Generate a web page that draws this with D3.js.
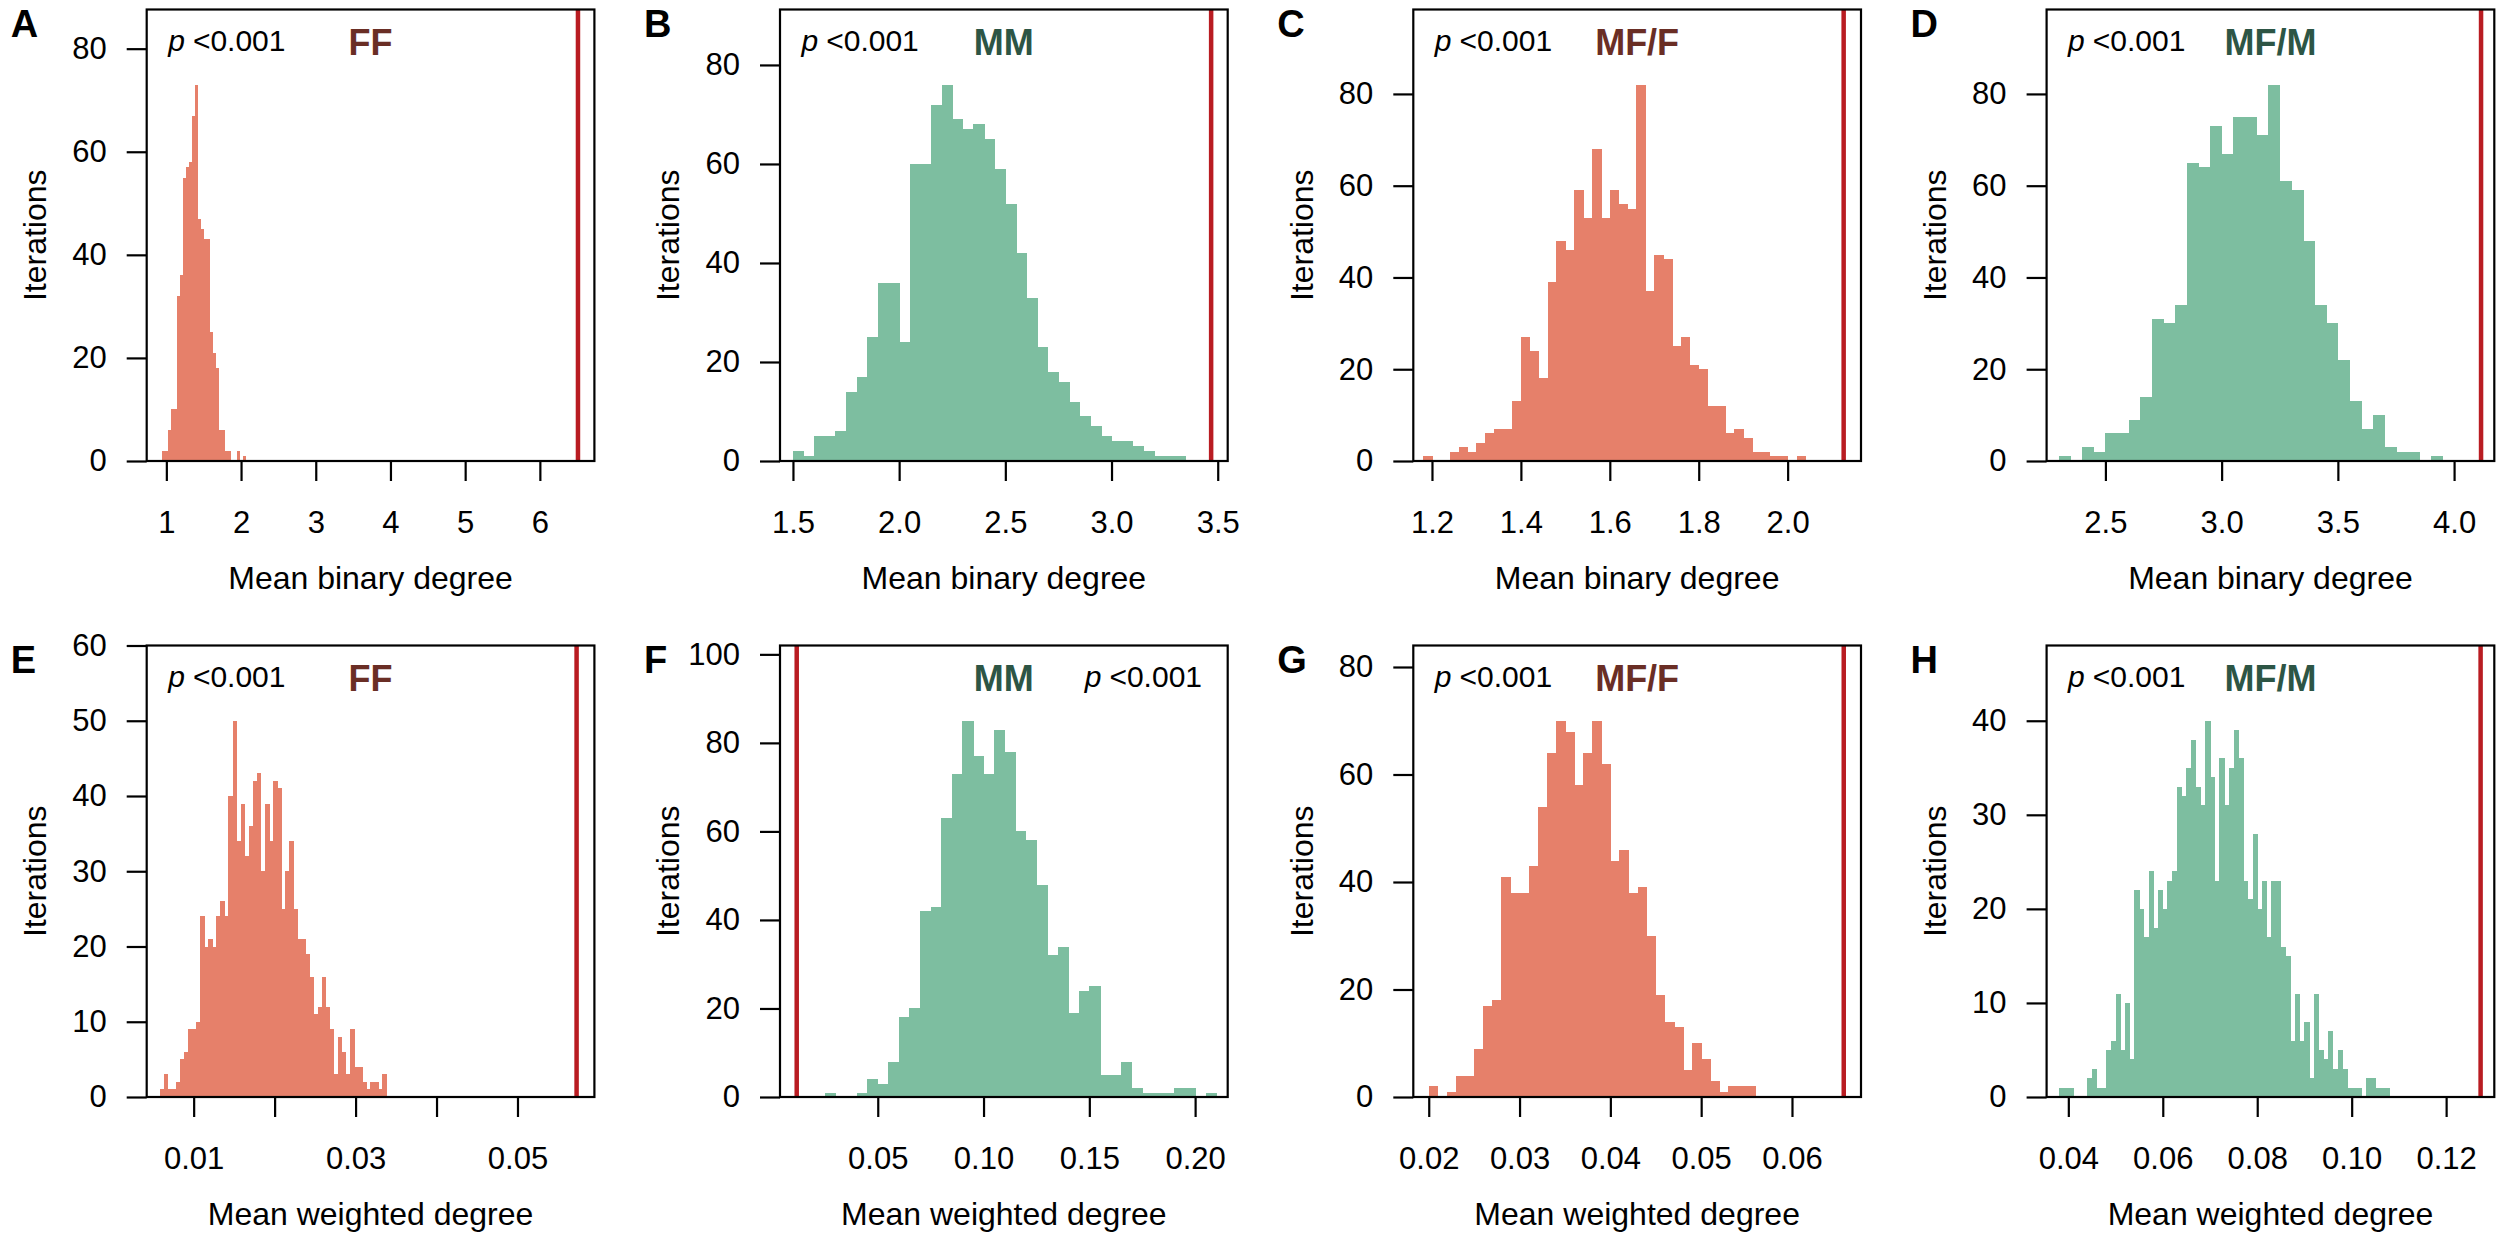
<!DOCTYPE html>
<html>
<head>
<meta charset="utf-8">
<script src="https://cdn.jsdelivr.net/npm/d3@7"></script>
<style>
  body { margin: 0; background: #fff; }
  svg { display: block; }
</style>
</head>
<body>
<div id="chart"></div>
<script>
let width = 2500
let height = 1234

//////////////////////////////////////////////////////////////////////
// DATA (bin counts, 1000 iterations per panel)
//////////////////////////////////////////////////////////////////////
let ffBinaryCounts = [2, 2, 6, 10, 10, 32, 36, 55, 57, 58, 67, 73, 47, 45, 43, 43, 25, 21, 18, 6, 6, 2, 2, 0, 0, 2, 0, 1]
let mmBinaryCounts = [2, 1, 5, 5, 6, 14, 17, 25, 36, 36, 24, 60, 60, 72, 76, 69, 67, 68, 65, 59, 52, 42, 33, 23, 18, 16, 12, 9, 7, 5, 4, 4, 3, 2, 1, 1, 1]
let mfFBinaryCounts = [1, 0, 0, 2, 3, 2, 4, 6, 7, 7, 13, 27, 24, 18, 39, 48, 46, 59, 53, 68, 53, 59, 56, 55, 82, 37, 45, 44, 25, 27, 21, 20, 12, 12, 6, 7, 5, 2, 2, 1, 1, 0, 1]
let mfMBinaryCounts = [1, 0, 3, 2, 6, 6, 9, 14, 31, 30, 34, 65, 64, 73, 67, 75, 75, 71, 82, 61, 59, 48, 34, 30, 22, 13, 7, 10, 3, 2, 2, 0, 1]
let ffWeightedCounts = [1, 3, 1, 1, 2, 5, 6, 9, 9, 10, 24, 20, 21, 20, 24, 26, 24, 40, 50, 34, 39, 32, 36, 42, 43, 30, 39, 34, 42, 41, 25, 30, 34, 25, 21, 21, 19, 16, 11, 12, 16, 12, 9, 3, 8, 6, 3, 9, 4, 4, 2, 1, 2, 2, 1, 3]
let mmWeightedCounts = [1, 0, 0, 1, 4, 3, 8, 18, 20, 42, 43, 63, 73, 85, 77, 73, 83, 78, 60, 58, 48, 32, 34, 19, 24, 25, 5, 5, 8, 2, 1, 1, 1, 2, 2, 0, 1]
let mfFWeightedCounts = [2, 0, 1, 4, 4, 9, 17, 18, 41, 38, 38, 43, 54, 64, 70, 68, 58, 64, 70, 62, 44, 46, 38, 39, 30, 19, 14, 13, 5, 10, 7, 3, 1, 2, 2, 2]
let mfMWeightedCounts = [1, 1, 1, 0, 0, 0, 2, 3, 1, 1, 5, 6, 11, 5, 10, 4, 22, 20, 17, 24, 18, 22, 20, 23, 24, 33, 32, 35, 38, 33, 31, 40, 34, 23, 36, 31, 35, 39, 36, 23, 21, 28, 20, 23, 17, 23, 23, 16, 15, 6, 11, 6, 8, 2, 11, 5, 4, 7, 3, 5, 3, 1, 1, 1, 0, 2, 2, 1, 1, 1]

let binStarts = [0.94, 1.5, 1.18, 2.3, 0.0058, 0.025, 0.02, 0.038]
let binWidths = [0.04, 0.05, 0.02, 0.05, 0.0005, 0.005, 0.001, 0.001]
// observed network value (red line)
let observedValues = [6.51, 3.469, 2.126, 4.116, 0.0573, 0.0117, 0.0657, 0.1273]
let pLabels = ["<0.001", "<0.001", "<0.001", "<0.001", "<0.001", "<0.001", "<0.001", "<0.001"]

let panelLetters = ["A", "B", "C", "D", "E", "F", "G", "H"]
let groupLabels = ["FF", "MM", "MF/F", "MF/M", "FF", "MM", "MF/F", "MF/M"]
let xTitles = ["Mean binary degree", "Mean binary degree", "Mean binary degree", "Mean binary degree",
  "Mean weighted degree", "Mean weighted degree", "Mean weighted degree", "Mean weighted degree"]
let yTitle = "Iterations"

let xLimits = [[0.737, 6.73], [1.439, 3.547], [1.158, 2.165], [2.247, 4.173],
  [0.0042, 0.0595], [0.0038, 0.2154], [0.0183, 0.0676], [0.0354, 0.1302]]
let xTicks = [[1, 2, 3, 4, 5, 6], [1.5, 2, 2.5, 3, 3.5], [1.2, 1.4, 1.6, 1.8, 2.0], [2.5, 3, 3.5, 4],
  [0.01, 0.02, 0.03, 0.04, 0.05], [0.05, 0.1, 0.15, 0.2], [0.02, 0.03, 0.04, 0.05, 0.06], [0.04, 0.06, 0.08, 0.1, 0.12]]
let xTickLabels = [["1", "2", "3", "4", "5", "6"], ["1.5", "2.0", "2.5", "3.0", "3.5"], ["1.2", "1.4", "1.6", "1.8", "2.0"],
  ["2.5", "3.0", "3.5", "4.0"], ["0.01", "", "0.03", "", "0.05"], ["0.05", "0.10", "0.15", "0.20"],
  ["0.02", "0.03", "0.04", "0.05", "0.06"], ["0.04", "0.06", "0.08", "0.10", "0.12"]]
let yTicks = [[0, 20, 40, 60, 80], [0, 20, 40, 60, 80], [0, 20, 40, 60, 80], [0, 20, 40, 60, 80],
  [0, 10, 20, 30, 40, 50, 60], [0, 20, 40, 60, 80, 100], [0, 20, 40, 60, 80], [0, 10, 20, 30, 40]]

let panelCounts = [ffBinaryCounts, mmBinaryCounts, mfFBinaryCounts, mfMBinaryCounts,
  ffWeightedCounts, mmWeightedCounts, mfFWeightedCounts, mfMWeightedCounts]

//////////////////////////////////////////////////////////////////////
// LAYOUT / STYLE
//////////////////////////////////////////////////////////////////////
let font = '"Liberation Sans", Arial, Helvetica, sans-serif'
let barColor = { F: "#e6806a", M: "#7dbea0" }
let labelColor = { F: "#6a2e25", M: "#2d5545" }
let lineRed = "#b91c22"

let plotW = 447.7
let plotH = 451.5
let left0 = 146.7
let top0 = 9.5
let colStep = 633.3
let rowStep = 636

const svg = d3
  .select("#chart")
  .append("svg")
  .attr("width", width)
  .attr("height", height)
  .attr("viewBox", `0 0 ${width} ${height}`)
  .style("font-family", font)

svg.append("rect").attr("width", width).attr("height", height).attr("fill", "#fff")

//////////////////////////////////////////////////////////////////////
// DRAW EACH HISTOGRAM
//////////////////////////////////////////////////////////////////////
panelLetters.forEach((letter, i) => {
  const col = i % 4
  const row = Math.floor(i / 4)
  const counts = panelCounts[i]
  const sex = groupLabels[i].slice(-1)

  const g = svg
    .append("g")
    .attr("transform", `translate(${left0 + col * colStep},${top0 + row * rowStep})`)

  const x = d3.scaleLinear().domain(xLimits[i]).range([0, plotW])
  const y = d3.scaleLinear().domain([0, d3.max(counts) * 1.2]).range([plotH, 0])

  const bins = counts
    .map((n, k) => ({
      x0: binStarts[i] + k * binWidths[i],
      x1: binStarts[i] + (k + 1) * binWidths[i],
      n: n,
    }))
    .filter((d) => d.n > 0)

  g.append("g")
    .attr("shape-rendering", "crispEdges")
    .selectAll("rect")
    .data(bins)
    .join("rect")
    .attr("x", (d) => x(d.x0))
    .attr("width", (d) => x(d.x1) - x(d.x0) + 0.6)
    .attr("y", (d) => y(d.n))
    .attr("height", (d) => y(0) - y(d.n))
    .attr("fill", barColor[sex])

  // observed value
  g.append("line")
    .attr("x1", x(observedValues[i]))
    .attr("x2", x(observedValues[i]))
    .attr("y1", 0)
    .attr("y2", plotH)
    .attr("stroke", lineRed)
    .attr("stroke-width", 4.5)

  // box
  g.append("rect")
    .attr("width", plotW)
    .attr("height", plotH)
    .attr("fill", "none")
    .attr("stroke", "#000")
    .attr("stroke-width", 2.2)

  // axes
  const xAxis = g
    .append("g")
    .attr("transform", `translate(0,${plotH})`)
    .call(
      d3.axisBottom(x)
        .tickValues(xTicks[i])
        .tickFormat((d, k) => xTickLabels[i][k])
        .tickSize(20)
        .tickPadding(30)
    )
  const yAxis = g
    .append("g")
    .call(d3.axisLeft(y).tickValues(yTicks[i]).tickSize(20).tickPadding(20))

  for (const a of [xAxis, yAxis]) {
    a.select(".domain").remove()
    a.attr("font-family", font).attr("font-size", 31)
    a.selectAll("line").attr("stroke", "#000").attr("stroke-width", 2.2)
    a.selectAll("text").attr("fill", "#000")
  }

  // p value, on the side away from the red line
  const lineOnRight = x(observedValues[i]) > plotW / 2
  const pText = g
    .append("text")
    .attr("x", lineOnRight ? 21.5 : plotW - 25.7)
    .attr("y", 41)
    .attr("text-anchor", lineOnRight ? "start" : "end")
    .attr("font-size", 30)
  pText.append("tspan").attr("font-style", "italic").text("p")
  pText.append("tspan").attr("dx", 8).text(pLabels[i])

  // group label
  g.append("text")
    .attr("x", plotW / 2)
    .attr("y", 45.5)
    .attr("text-anchor", "middle")
    .attr("font-size", 36)
    .attr("font-weight", "bold")
    .attr("fill", labelColor[sex])
    .text(groupLabels[i])

  // panel letter
  g.append("text")
    .attr("x", -136)
    .attr("y", 27.5)
    .attr("font-size", 38)
    .attr("font-weight", "bold")
    .text(letter)

  // axis titles
  g.append("text")
    .attr("x", plotW / 2)
    .attr("y", plotH + 128)
    .attr("text-anchor", "middle")
    .attr("font-size", 32)
    .text(xTitles[i])

  g.append("text")
    .attr("transform", `translate(-100.7,${plotH / 2}) rotate(-90)`)
    .attr("text-anchor", "middle")
    .attr("font-size", 32)
    .text(yTitle)
})
</script>
</body>
</html>
